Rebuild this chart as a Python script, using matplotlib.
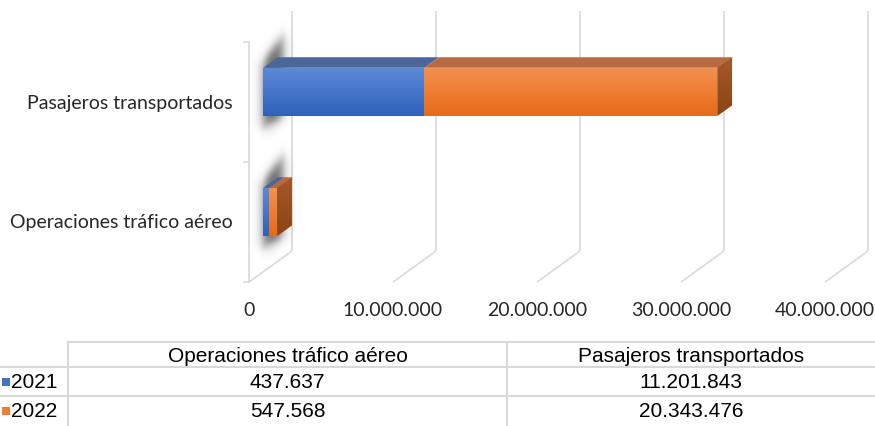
import numpy as np
import matplotlib
matplotlib.use('Agg')
import matplotlib.pyplot as plt
from matplotlib.patches import Polygon, Rectangle
from matplotlib.colors import to_rgb
from matplotlib.transforms import offset_copy

# --- DATOS ---
categorias = ["Operaciones tráfico aéreo", "Pasajeros transportados"]
anios = ["2021", "2022"]
valores_2021 = [437637, 11201843]
valores_2022 = [547568, 20343476]
ticks_x = [0, 10000000, 20000000, 30000000, 40000000]

# --- ESTILO ---
GRID = "#d9d9d9"
TXT = "#262626"
AZUL = {"front_top": "#5d89d6", "front_bot": "#2f61bd", "top": "#4b6698",
        "side_top": "#3f5a8a", "side_bot": "#324a75", "legend": "#4472c4"}
NARANJA = {"front_top": "#f4904f", "front_bot": "#e86b18", "top": "#b86b42",
           "side_top": "#a65828", "side_bot": "#8c4414", "legend": "#ed7d31"}
colores = [AZUL, NARANJA]

W, H = 875, 427
X0_PIX = 249          # cero del eje en el plano frontal
PIX_X = 144 / 1e7     # pixeles por unidad
Y_CAT0 = 223          # centro de la categoria 0 (plano frontal)
PIX_Y = 120           # pixeles por categoria
DEPTH_PX = (43, 31)   # desplazamiento de profundidad (oblicuo)
D0, D1 = 0.33, 0.67   # profundidad de las barras
HH = 0.2              # media altura de barra


def fmt(n):
    return f"{n:,}".replace(",", ".")


fig = plt.figure(figsize=(W / 100, H / 100), dpi=100)
ax = fig.add_axes([0, 0, 1, 1])
ax.set_xlim(-X0_PIX / PIX_X, (W - X0_PIX) / PIX_X)
ax.set_ylim((Y_CAT0 - H) / PIX_Y, Y_CAT0 / PIX_Y)
ax.axis('off')

DX = DEPTH_PX[0] / PIX_X
DY = DEPTH_PX[1] / PIX_Y


def P(v, y, d):
    return (v + d * DX, y + d * DY)


# --- rejilla 3D ---
y_bot, y_top = -0.5, len(categorias) - 0.5
for t in ticks_x:
    a, b = P(t, y_bot, 1), P(t, y_top, 1)
    ax.plot([a[0], b[0]], [a[1], b[1]], color=GRID, lw=1.2, zorder=1, solid_capstyle='butt')
    c = P(t, y_bot, 0)
    ax.plot([a[0], c[0]], [a[1], c[1]], color=GRID, lw=1.2, zorder=1, solid_capstyle='butt')
ax.plot([0, 0], [y_bot, y_top], color=GRID, lw=1.2, zorder=1, solid_capstyle='butt')
for k in range(len(categorias) + 1):
    ax.plot([-5 / PIX_X, 0], [y_bot + k, y_bot + k], color=GRID, lw=1.2, zorder=1)

# etiquetas eje x
tr_x = offset_copy(ax.transData, fig=fig, x=0, y=-19, units='dots')
for t in ticks_x:
    ax.text(t, y_bot, fmt(t), ha='center', va='top', transform=tr_x,
            fontsize=14, color=TXT, family=['Lato', 'DejaVu Sans'])

# etiquetas categorias
tr_y = offset_copy(ax.transData, fig=fig, x=-16, y=0, units='dots')
for i, cat in enumerate(categorias):
    ax.text(0, i, cat, ha='right', va='center', transform=tr_y,
            fontsize=14, color=TXT, family=['Lato', 'DejaVu Sans'])

# --- sombras difusas detras de las barras ---
for i in range(len(categorias)):
    xa = P(0, 0, 0.31)[0]
    xb = P(0, 0, 0.80)[0]
    y_front_top = i + HH + D0 * DY
    gx = np.linspace(xa - 20 / PIX_X, xb + 20 / PIX_X, 110)
    gy = np.linspace(y_front_top - 95 / PIX_Y, y_front_top + 65 / PIX_Y, 180)
    px = (gx - xa) * PIX_X                      # pixeles desde el borde izq.
    py = (gy - y_front_top)[:, None] * PIX_Y    # pixeles hacia arriba
    ancho = (xb - xa) * PIX_X
    frac = np.clip(px / ancho, 0, 1)[None, :]
    borde_sup = 8 + 24 * frac
    borde_inf = -60 + 10 * frac
    sx = 0.5 * (np.tanh((px - 1) / 6) - np.tanh((px - ancho + 1) / 6))[None, :]
    sy = 0.25 * (1 + np.tanh((borde_sup - py) / 8)) * (1 + np.tanh((py - borde_inf) / 7))
    alpha = 0.7 * sx * sy
    img = np.zeros((len(gy), len(gx), 4))
    img[..., :3] = 0.12
    img[..., 3] = alpha
    ax.imshow(img, extent=[gx[0], gx[-1], gy[0], gy[-1]], origin='lower',
              aspect='auto', interpolation='bilinear', zorder=2)

# --- barras apiladas ---
izq = np.zeros(len(categorias))
series = [valores_2021, valores_2022]
grad = np.linspace(0, 1, 64)[:, None]
for s, (vals, col) in enumerate(zip(series, colores)):
    vals = np.array(vals, dtype=float)
    bars = ax.barh(np.arange(len(categorias)) + D0 * DY, vals, left=izq + D0 * DX,
                   height=2 * HH, color=col["front_top"], zorder=4 + s * 3, lw=0)
    for rect in bars:
        top_c = np.array(to_rgb(col["front_top"]))
        bot_c = np.array(to_rgb(col["front_bot"]))
        gimg = top_c[None, None, :] * (1 - grad[:, :, None]) + bot_c[None, None, :] * grad[:, :, None]
        x0, y0 = rect.get_x(), rect.get_y()
        im = ax.imshow(gimg, extent=[x0, x0 + rect.get_width(), y0, y0 + rect.get_height()],
                       origin='upper', aspect='auto', zorder=4 + s * 3)
        im.set_clip_path(rect)
    for i, (L, w) in enumerate(zip(izq, vals)):
        top = [P(L, i + HH, D0), P(L + w, i + HH, D0), P(L + w, i + HH, D1), P(L, i + HH, D1)]
        ax.add_patch(Polygon(top, closed=True, facecolor=col["top"], lw=0, zorder=5 + s * 3))
        if s == len(series) - 1:
            side = [P(L + w, i - HH, D0), P(L + w, i + HH, D0), P(L + w, i + HH, D1), P(L + w, i - HH, D1)]
            poly = Polygon(side, closed=True, facecolor=col["side_top"], lw=0, zorder=5 + s * 3)
            ax.add_patch(poly)
            st = np.array(to_rgb(col["side_top"]))
            sb = np.array(to_rgb(col["side_bot"]))
            simg = st[None, None, :] * (1 - grad[:, :, None]) + sb[None, None, :] * grad[:, :, None]
            xs = [p[0] for p in side]
            ys = [p[1] for p in side]
            im = ax.imshow(simg, extent=[min(xs), max(xs), min(ys), max(ys)], origin='upper',
                           aspect='auto', zorder=5 + s * 3)
            im.set_clip_path(poly)
    izq = izq + vals

ax.set_xlim(-X0_PIX / PIX_X, (W - X0_PIX) / PIX_X)
ax.set_ylim((Y_CAT0 - H) / PIX_Y, Y_CAT0 / PIX_Y)

# --- tabla de datos ---
tab = fig.add_axes([0, 0, 1, 1])
tab.set_xlim(0, W)
tab.set_ylim(H, 0)
tab.axis('off')
filas_y = [343, 368, 397, 427]
cols_x = [0, 68, 507, W]
tab.plot([cols_x[1], W], [filas_y[0], filas_y[0]], color=GRID, lw=1.5)
for yy in filas_y[1:3]:
    tab.plot([0, W], [yy, yy], color=GRID, lw=1.5)
for xx in cols_x[1:3]:
    tab.plot([xx, xx], [filas_y[0], filas_y[-1]], color=GRID, lw=1.5)

fuente_tab = ['Liberation Sans', 'DejaVu Sans']
for j, cat in enumerate(categorias):
    xc = (cols_x[j + 1] + cols_x[j + 2]) / 2
    tab.text(xc, (filas_y[0] + filas_y[1]) / 2 + 1, cat, ha='center', va='center',
             fontsize=15, family=fuente_tab, color='black')
for r, (anio, vals, col) in enumerate(zip(anios, series, colores)):
    yc = (filas_y[r + 1] + filas_y[r + 2]) / 2
    tab.add_patch(Rectangle((2, yc - 4), 8, 8, facecolor=col["legend"], lw=0))
    tab.text(11, yc, anio, ha='left', va='center', fontsize=15, family=fuente_tab, color='black')
    for j, v in enumerate(vals):
        xc = (cols_x[j + 1] + cols_x[j + 2]) / 2
        tab.text(xc, yc, fmt(v), ha='center', va='center', fontsize=15,
                 family=fuente_tab, color='black')

fig.savefig("out.png", dpi=100)
